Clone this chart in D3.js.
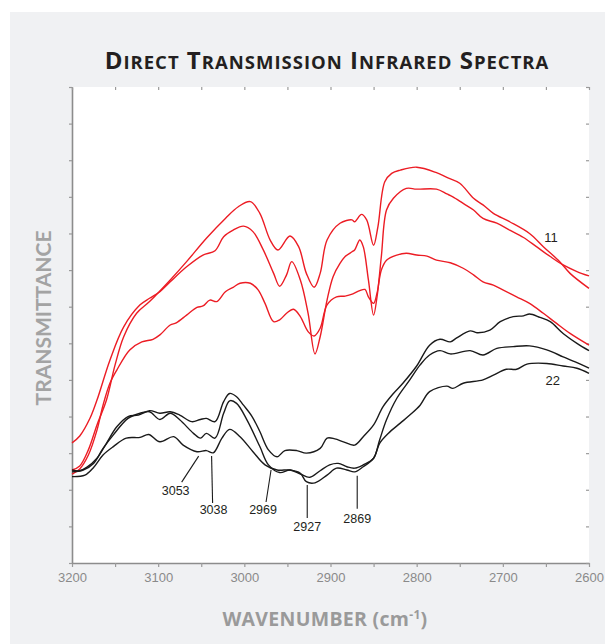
<!DOCTYPE html>
<html>
<head>
<meta charset="utf-8">
<script src="https://cdn.jsdelivr.net/npm/d3@7"></script>
<style>
  body { margin: 0; background: #fff; }
</style>
</head>
<body>
<div id="chart"></div>
<script>
// wavenumber ticks (cm-1)
var xTicks = [3200, 3100, 3000, 2900, 2800, 2700, 2600];
var xMinorTicks = d3.range(3200, 2599, -50);
var yTicks = d3.range(0, 131, 10);

// red spectra
var red1Wn = [3200,3191,3181,3171,3160,3150,3140,3125,3110,3086,3067,3044,3022,3007,2993,2982,2970,2961,2947,2937,2928,2919,2912,2904,2889,2875,2872,2864,2858,2850,2845,2837,2829,2819,2800,2777,2765,2750,2734,2723,2711,2692,2669,2653,2634,2622,2600];
var red1T = [25.4,26.5,30.9,37.7,44.5,54.1,61.8,68.2,71.4,77.3,82.3,88.7,94.1,97.3,98.7,95.5,88.2,85.5,89.3,86.4,79.1,75.3,79.1,88.2,92.8,93.7,93.2,95.2,93.7,86.8,91.8,104.1,106.4,107.3,108.1,106.6,105.3,103.7,99.6,97.8,95.5,93.2,90.0,86.4,82.3,79.1,75.0];

var red2Wn = [3200,3191,3179,3171,3156,3140,3121,3110,3098,3086,3067,3048,3034,3024,3013,3001,2990,2978,2966,2959,2951,2945,2935,2926,2918,2912,2904,2897,2889,2883,2875,2872,2866,2862,2856,2850,2846,2841,2835,2827,2812,2800,2777,2765,2758,2746,2734,2723,2707,2692,2676,2661,2645,2630,2614,2600];
var red2T = [32.8,34.7,39.6,44.5,55.4,64.5,70.5,72.3,74.1,76.8,80.9,84.1,85.3,89.1,90.9,92.0,90.5,85.5,79.1,75.6,78.7,82.3,77.3,68.2,57.1,61.8,71.8,78.2,81.8,83.7,85.0,85.5,88.2,86.4,77.3,67.7,72.7,83.7,96.4,99.6,102.3,102.1,102.1,100.8,100.0,98.2,96.4,94.1,92.8,90.9,88.9,86.4,83.7,81.4,79.6,78.4];

var red3Wn = [3200,3191,3181,3171,3164,3156,3148,3133,3119,3106,3098,3086,3079,3067,3055,3048,3040,3032,3022,3013,3005,2993,2984,2976,2966,2959,2951,2943,2935,2926,2919,2912,2904,2893,2883,2874,2866,2860,2856,2850,2846,2841,2835,2823,2812,2800,2788,2777,2761,2746,2734,2723,2711,2700,2684,2669,2653,2638,2622,2600];
var red3T = [24.3,25.7,29.5,36.3,43.1,49.1,52.7,58.2,60.4,61.1,62.3,65.0,65.6,67.7,69.8,70.2,71.8,71.4,74.1,75.3,76.4,76.4,74.6,70.9,65.9,66.4,68.2,69.3,67.3,63.2,62.0,64.1,70.5,72.7,72.9,73.5,74.4,74.7,72.7,70.9,73.7,80.0,82.7,84.1,84.6,84.1,83.8,82.7,82.0,80.5,78.7,76.8,75.9,74.6,72.7,70.9,68.2,65.5,62.7,59.5];

// black spectra
var black1Wn = [3200,3191,3183,3171,3160,3148,3135,3123,3110,3098,3086,3075,3061,3051,3044,3034,3024,3017,3009,3001,2991,2982,2972,2962,2953,2939,2928,2912,2904,2895,2885,2872,2862,2850,2839,2827,2816,2800,2785,2773,2761,2754,2738,2730,2715,2703,2688,2676,2669,2657,2645,2630,2614,2600];
var black1T = [25.4,25.2,26.1,28.6,32.7,37.2,40.0,40.4,41.6,40.9,41.3,40.4,38.6,39.2,39.5,38.6,44.1,46.3,45.4,43.1,40.0,35.9,30.9,29.0,30.7,30.7,30.0,31.3,34.1,33.9,33.1,32.2,34.5,37.7,42.7,46.3,49.1,53.8,59.5,61.1,60.4,61.4,63.4,62.9,63.6,65.9,67.3,67.5,68.0,67.1,65.9,62.7,60.0,58.0];

var black2Wn = [3200,3187,3175,3164,3152,3135,3121,3110,3098,3086,3075,3059,3051,3044,3034,3024,3017,3009,2997,2982,2972,2959,2947,2935,2924,2912,2901,2891,2881,2872,2862,2850,2843,2835,2823,2808,2796,2785,2773,2761,2738,2723,2707,2688,2669,2649,2630,2614,2600];
var black2T = [24.9,25.4,27.2,31.3,35.0,39.5,40.9,41.3,39.2,40.9,39.1,35.4,34.1,35.4,34.1,40.9,44.3,43.6,39.1,31.8,26.8,24.7,25.4,24.3,23.4,25.2,26.8,27.2,26.3,25.9,26.8,28.6,33.6,39.1,45.0,50.0,54.1,56.8,58.0,57.1,58.0,56.8,58.6,59.1,59.3,58.2,56.3,54.7,53.2];

var black3Wn = [3200,3185,3175,3164,3152,3137,3121,3111,3098,3082,3071,3055,3044,3036,3026,3017,3005,2990,2976,2962,2947,2935,2928,2918,2904,2893,2881,2872,2862,2850,2843,2833,2819,2808,2796,2785,2765,2758,2746,2723,2711,2696,2684,2672,2649,2630,2614,2600];
var black3T = [23.6,24.0,26.1,29.5,31.8,34.1,34.3,35.1,33.1,34.5,32.2,30.4,30.7,30.1,34.1,36.5,34.5,30.4,26.8,25.4,25.4,24.5,22.2,21.9,24.0,25.9,25.4,24.9,26.3,28.6,32.7,35.4,38.2,40.4,43.1,46.8,48.3,47.7,49.1,50.0,51.3,52.9,52.9,54.3,54.5,53.8,53.2,51.8];

// peak annotations: wavenumber, transmittance at the leader tip
var peakWn = [3053, 3038, 2969, 2927, 2869];
var peakT = [29.2, 29.2, 25.4, 21.3, 23.8];
// leader end offset and text offset (px), layout only
var peakLayout = [
  {dx: -17, dy: 26, tx: -6, ty: 13},
  {dx: 1, dy: 47, tx: 1, ty: 11},
  {dx: -5, dy: 32, tx: -3, ty: 12},
  {dx: 0, dy: 33, tx: 0, ty: 13},
  {dx: 0, dy: 33, tx: 0, ty: 14}
];

var seriesLabels = [{text: "11", wn: 2644, t: 88.9}, {text: "22", wn: 2642, t: 49.8}];

var width = 605,
    height = 644;

var plot = {left: 72, right: 589, top: 87, bottom: 563};

var svg = d3.select("#chart")
  .append("svg")
    .attr("width", width)
    .attr("height", height)
    .style("display", "block");

svg.append("rect")
  .attr("x", 10).attr("y", 12)
  .attr("width", width - 10).attr("height", height - 12)
  .attr("fill", "#f0f1f3");

svg.append("rect")
  .attr("x", plot.left).attr("y", plot.top)
  .attr("width", plot.right - plot.left).attr("height", plot.bottom - plot.top)
  .attr("fill", "#fff");

var x = d3.scaleLinear().domain([3200, 2600]).range([plot.left, plot.right]);
var y = d3.scaleLinear().domain([0, 130]).range([plot.bottom, plot.top]);

// title in small caps
var titleWords = ["DIRECT", "TRANSMISSION", "INFRARED", "SPECTRA"];
var title = svg.append("text")
  .attr("x", 327).attr("y", 69)
  .attr("text-anchor", "middle")
  .style("font-family", "'Open Sans', Lato, sans-serif")
  .style("font-weight", "bold")
  .style("letter-spacing", "1px")
  .attr("fill", "#231f20");
titleWords.forEach(function(w, i){
  title.append("tspan").style("font-size", "24px").text((i > 0 ? " " : "") + w[0]);
  title.append("tspan").style("font-size", "18.5px").text(w.slice(1));
});

// axes
var gBottom = svg.append("g")
  .attr("transform", "translate(0," + plot.bottom + ")")
  .call(d3.axisBottom(x).tickValues(xMinorTicks).tickSizeInner(4).tickSizeOuter(0).tickPadding(6)
    .tickFormat(function(d){ return xTicks.indexOf(d) >= 0 ? d : ""; }));

var gLeft = svg.append("g")
  .attr("transform", "translate(" + plot.left + ",0)")
  .call(d3.axisLeft(y).tickValues(yTicks).tickSizeInner(3).tickSizeOuter(0).tickFormat(""));

var gTop = svg.append("g")
  .attr("transform", "translate(0," + plot.top + ")")
  .call(d3.axisTop(x).tickValues(xMinorTicks).tickSizeInner(-3).tickSizeOuter(0).tickFormat(""));
gTop.select(".domain").remove();

var gRight = svg.append("g")
  .attr("transform", "translate(" + plot.right + ",0)")
  .call(d3.axisRight(y).tickValues(yTicks).tickSizeInner(-3).tickSizeOuter(0).tickFormat(""));
gRight.select(".domain").remove();

[gBottom, gLeft].forEach(function(g){
  g.select(".domain").attr("stroke", "#8c8c8c").attr("stroke-width", 1.6);
});
[gBottom, gLeft, gTop, gRight].forEach(function(g){
  g.selectAll(".tick line").attr("stroke", "#9a9a9a").attr("stroke-width", 1.2);
});
gBottom.selectAll(".tick text")
  .attr("fill", "#8a8a8a")
  .style("font-family", "'Liberation Sans', Arial, sans-serif")
  .style("font-size", "13px");

// axis titles
var xTitle = svg.append("text")
  .attr("x", 325).attr("y", 626)
  .attr("text-anchor", "middle")
  .style("font-family", "'Open Sans', Lato, sans-serif")
  .style("font-weight", "bold")
  .style("font-size", "19.5px")
  .style("letter-spacing", "0.3px")
  .attr("fill", "#9a9a9a");
xTitle.append("tspan").text("WAVENUMBER (cm");
xTitle.append("tspan").attr("dy", -7).style("font-size", "12px").text("-1");
xTitle.append("tspan").attr("dy", 7).text(")");

svg.append("text")
  .attr("transform", "translate(51,318) rotate(-90)")
  .attr("text-anchor", "middle")
  .style("font-family", "Lato, 'Open Sans', sans-serif")
  .style("font-weight", "bold")
  .style("font-size", "21px")
  .attr("fill", "#a3a3a3")
  .text("TRANSMITTANCE");

// spectra
var line = d3.line()
  .x(function(d){ return x(d[0]); })
  .y(function(d){ return y(d[1]); })
  .curve(d3.curveCatmullRom.alpha(0.5));

var spectra = [
  {wn: red1Wn, t: red1T, color: "#ec1c24"},
  {wn: red2Wn, t: red2T, color: "#ec1c24"},
  {wn: red3Wn, t: red3T, color: "#ec1c24"},
  {wn: black1Wn, t: black1T, color: "#1a1a1a"},
  {wn: black2Wn, t: black2T, color: "#1a1a1a"},
  {wn: black3Wn, t: black3T, color: "#1a1a1a"}
];

svg.append("g")
  .selectAll("path")
  .data(spectra)
  .enter()
  .append("path")
    .attr("d", function(s){ return line(d3.zip(s.wn, s.t)); })
    .attr("fill", "none")
    .attr("stroke", function(s){ return s.color; })
    .attr("stroke-width", 1.4)
    .attr("stroke-linejoin", "round");

// peak labels
var peaks = svg.append("g")
  .selectAll("g")
  .data(peakWn)
  .enter()
  .append("g");

peaks.append("line")
  .attr("x1", function(d){ return x(d); })
  .attr("y1", function(d, i){ return y(peakT[i]); })
  .attr("x2", function(d, i){ return x(d) + peakLayout[i].dx; })
  .attr("y2", function(d, i){ return y(peakT[i]) + peakLayout[i].dy; })
  .attr("stroke", "#1a1a1a")
  .attr("stroke-width", 1.1);

peaks.append("text")
  .attr("x", function(d, i){ return x(d) + peakLayout[i].dx + peakLayout[i].tx; })
  .attr("y", function(d, i){ return y(peakT[i]) + peakLayout[i].dy + peakLayout[i].ty; })
  .attr("text-anchor", "middle")
  .style("font-family", "'Liberation Sans', Arial, sans-serif")
  .style("font-size", "12.5px")
  .attr("fill", "#231f20")
  .text(function(d){ return d; });

svg.append("g")
  .selectAll("text")
  .data(seriesLabels)
  .enter()
  .append("text")
    .attr("x", function(d){ return x(d.wn); })
    .attr("y", function(d){ return y(d.t); })
    .attr("dy", "0.35em")
    .attr("text-anchor", "middle")
    .style("font-family", "'Liberation Sans', Arial, sans-serif")
    .style("font-size", "13px")
    .attr("fill", "#231f20")
    .text(function(d){ return d.text; });
</script>
</body>
</html>
